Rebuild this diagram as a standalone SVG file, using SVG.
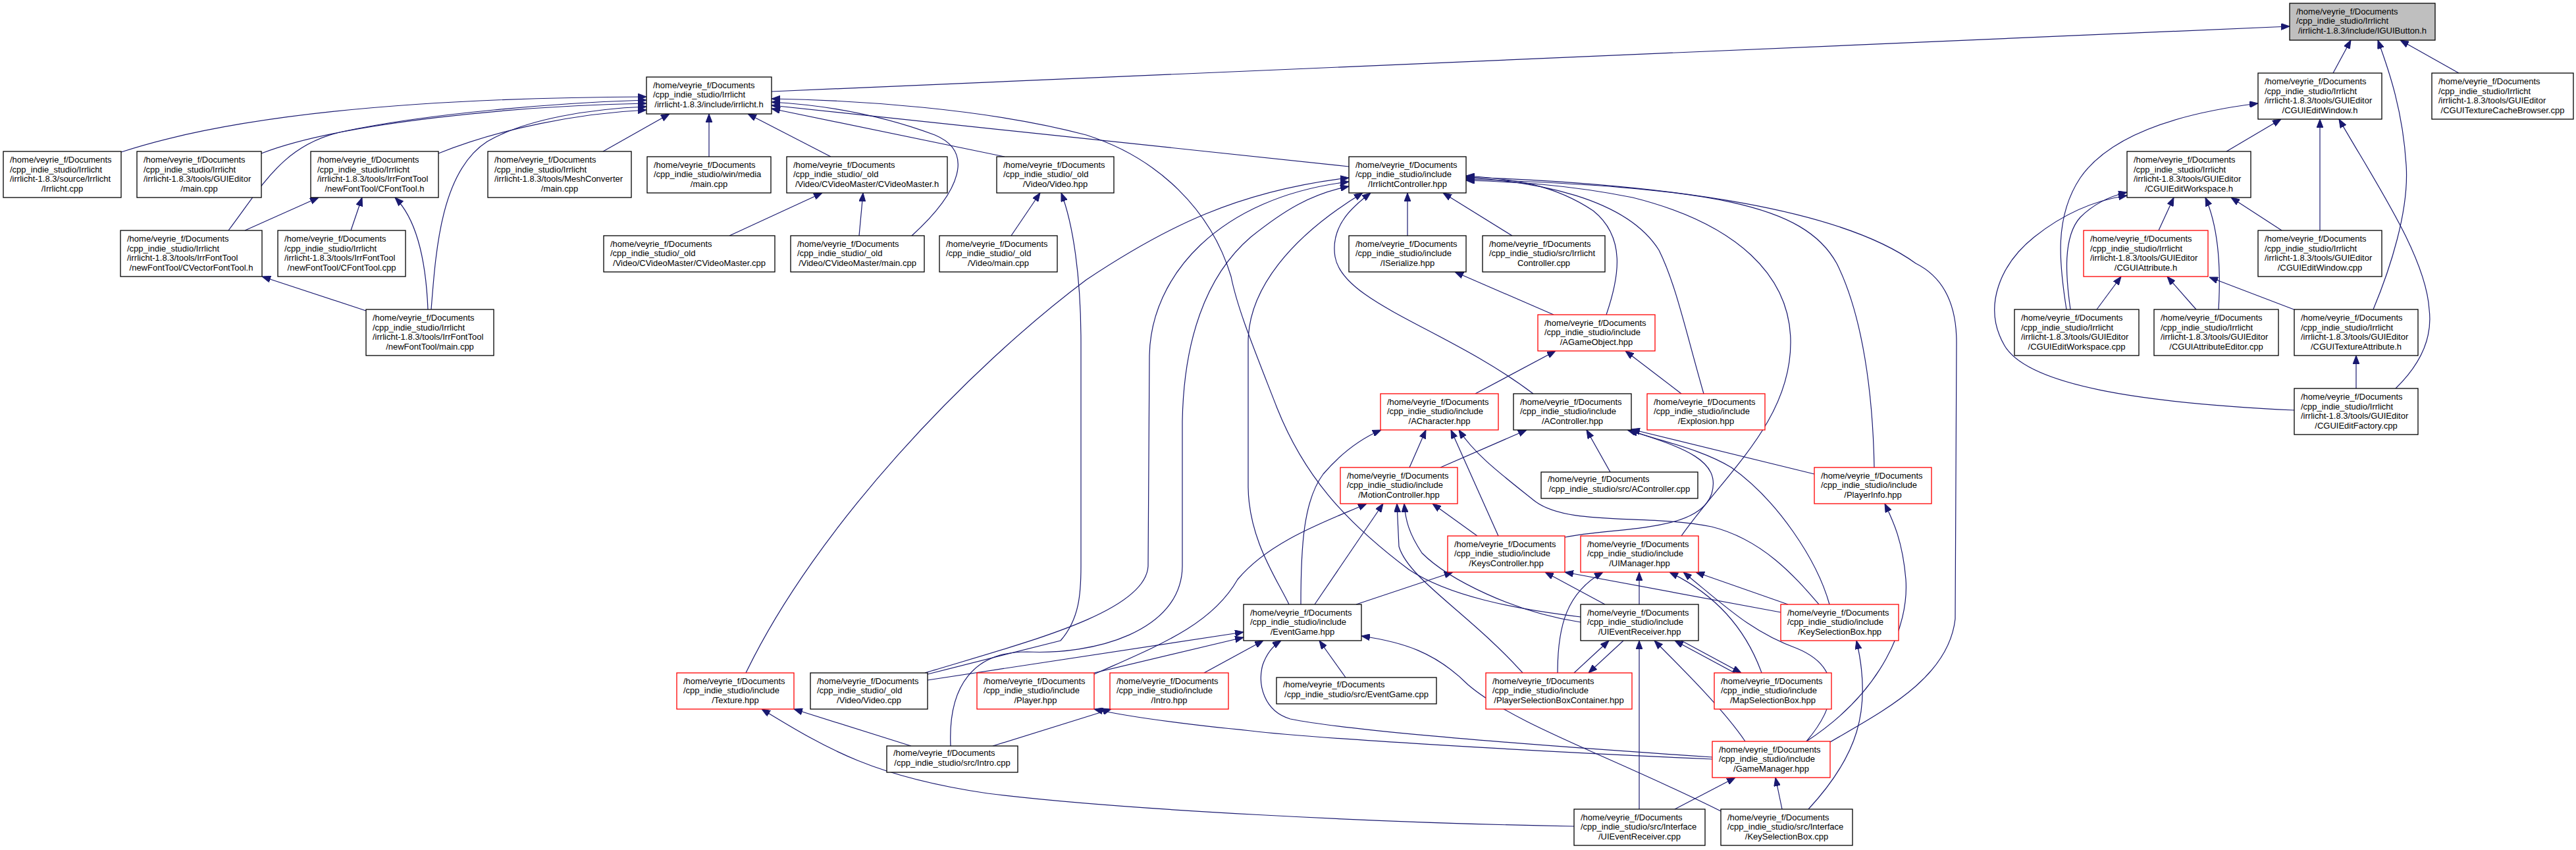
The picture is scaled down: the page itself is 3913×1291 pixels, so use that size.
<svg xmlns="http://www.w3.org/2000/svg" width="3913" height="1291" viewBox="0 0 3913 1291">
<style>
.node rect{fill:#fff;stroke:#000;stroke-width:1.3}
.node.red rect{stroke:#f00}
.node.sel rect{fill:#bfbfbf}
.node text{font-family:"Liberation Sans",Arial,Helvetica,sans-serif;font-size:13px;fill:#000}
.node text.c{text-anchor:middle}
#edges path{fill:none;stroke:#191970;stroke-width:1.2;marker-end:url(#arr)}
</style>
<defs>
<marker id="arr" markerWidth="13" markerHeight="10" refX="13" refY="5" orient="auto" markerUnits="userSpaceOnUse"><path d="M0,0 L13,5 L0,10 z" fill="#191970" stroke="#191970" stroke-width="1"/></marker>
</defs>
<rect width="3913" height="1291" fill="#fff"/>
<g id="edges">
<path d="M3544,111 L3571,61"/>
<path d="M3605,470 C3630,410 3660,320 3655,250 C3650,170 3630,110 3612,61"/>
<path d="M3735,111 L3646,61"/>
<path d="M1172,139 L3478,40"/>
<path d="M3382,230 L3465,181"/>
<path d="M3524,350 L3524,181"/>
<path d="M3639,590 C3680,550 3695,510 3690,470 C3685,390 3610,280 3553,181"/>
<path d="M3139,470 C3128,400 3120,330 3160,270 C3205,205 3310,172 3430,157"/>
<path d="M3279,350 L3302,300"/>
<path d="M3466,350 L3389,300"/>
<path d="M3370,470 C3373,420 3372,350 3350,300"/>
<path d="M3145,470 C3138,420 3133,360 3160,330 C3180,310 3205,298 3231,292"/>
<path d="M3485,623 C3250,612 3080,585 3045,525 C3010,465 3040,400 3090,360 C3140,320 3190,303 3231,297"/>
<path d="M3185,470 L3222,420"/>
<path d="M3336,470 L3292,420"/>
<path d="M3487,471 L3356,421"/>
<path d="M3579,590 L3579,540"/>
<path d="M184,231 C400,160 750,148 982,147"/>
<path d="M347,350 C400,280 430,220 520,200 C650,172 850,156 982,152"/>
<path d="M397,233 C520,185 800,160 982,157"/>
<path d="M655,470 C662,380 670,260 740,215 C800,180 900,165 982,162"/>
<path d="M666,233 C760,195 880,172 982,167"/>
<path d="M916,230 L1017,173"/>
<path d="M1077,238 L1077,173"/>
<path d="M1262,238 L1136,173"/>
<path d="M1385,358 C1460,290 1480,230 1420,205 C1340,175 1260,160 1172,155"/>
<path d="M1526,238 L1172,165"/>
<path d="M2049,253 L1172,160"/>
<path d="M2401,937 C2300,925 2200,905 2140,865 C2040,790 1980,720 1940,620 C1905,530 1880,470 1870,420 C1840,320 1760,240 1650,205 C1500,165 1300,152 1172,150"/>
<path d="M1133,1022 C1240,800 1470,560 1650,425 C1770,345 1880,290 2049,270"/>
<path d="M1405,1022 C1560,975 1740,930 1744,860 L1746,540 C1748,420 1850,300 2049,276"/>
<path d="M1444,1133 C1440,1040 1480,990 1560,990 C1660,995 1795,960 1796,860 L1796,640 C1798,520 1830,420 1900,360 C1950,320 1990,295 2049,283"/>
<path d="M1958,918 C1940,880 1897,820 1896,740 L1896,520 C1896,440 1960,360 2070,293"/>
<path d="M2329,598 C2200,500 2040,460 2028,390 C2020,340 2060,310 2082,293"/>
<path d="M2138,358 L2138,293"/>
<path d="M2297,358 L2192,293"/>
<path d="M2440,478 C2460,420 2470,360 2420,320 C2360,280 2300,272 2227,267"/>
<path d="M2588,598 C2560,500 2545,430 2520,380 C2470,300 2330,275 2227,270"/>
<path d="M2554,814 C2620,720 2720,640 2720,520 C2720,420 2640,340 2480,300 C2380,280 2300,276 2227,274"/>
<path d="M2847,710 C2845,600 2830,480 2790,400 C2740,310 2600,285 2227,272"/>
<path d="M2780,1127 C2860,1080 2960,1030 2970,940 L2972,520 C2972,460 2950,420 2910,400 C2800,320 2550,280 2227,269"/>
<path d="M372,350 L484,300"/>
<path d="M533,350 L550,300"/>
<path d="M650,470 C648,420 640,340 600,300"/>
<path d="M556,472 L398,420"/>
<path d="M1108,358 L1249,293"/>
<path d="M1305,358 L1311,293"/>
<path d="M1536,358 L1580,293"/>
<path d="M1409,1024 L1611,973 C1640,940 1642,900 1642,860 L1642,520 C1642,420 1630,340 1612,293"/>
<path d="M2360,478 L2210,413"/>
<path d="M2241,598 L2363,533"/>
<path d="M2554,598 L2469,533"/>
<path d="M2141,710 L2166,653"/>
<path d="M2276,814 L2204,653"/>
<path d="M2763,918 C2730,880 2680,820 2600,800 C2500,780 2380,800 2330,760 C2280,720 2240,690 2216,653"/>
<path d="M1976,918 C1976,830 1980,760 2010,720 C2040,685 2070,665 2098,653"/>
<path d="M2188,710 L2319,653"/>
<path d="M2446,717 L2410,653"/>
<path d="M2756,720 L2478,652"/>
<path d="M2377,816 C2450,800 2580,810 2600,750 C2615,700 2560,680 2472,653"/>
<path d="M2779,918 C2760,850 2700,760 2630,710 C2580,680 2520,670 2475,653"/>
<path d="M1662,1024 C1760,980 1840,950 1880,880 C1930,820 2020,790 2076,765"/>
<path d="M1997,918 L2101,765"/>
<path d="M2313,1022 C2230,930 2140,880 2125,830 L2122,765"/>
<path d="M2401,945 C2300,930 2200,880 2160,840 C2140,810 2135,790 2133,765"/>
<path d="M2244,814 L2176,765"/>
<path d="M2060,918 L2207,869"/>
<path d="M2438,918 L2347,869"/>
<path d="M2705,930 L2377,869"/>
<path d="M2490,918 L2490,869"/>
<path d="M2366,1022 C2366,950 2380,900 2435,869"/>
<path d="M2676,1022 C2650,950 2600,900 2536,869"/>
<path d="M2716,918 L2576,869"/>
<path d="M2744,1126 C2800,1060 2790,1010 2730,985 C2660,960 2620,920 2557,869"/>
<path d="M2391,1022 L2444,973"/>
<path d="M2466,973 L2413,1022"/>
<path d="M2635,1022 L2544,973"/>
<path d="M2554,973 L2645,1022"/>
<path d="M2651,1126 C2620,1080 2560,1020 2513,973"/>
<path d="M2490,1229 L2490,973"/>
<path d="M2044,1029 L2004,973"/>
<path d="M2614,1232 C2450,1150 2300,1100 2230,1040 C2180,990 2130,975 2068,966"/>
<path d="M1409,1033 L1889,960"/>
<path d="M1662,1022 L1889,968"/>
<path d="M1829,1022 L1919,973"/>
<path d="M2601,1150 C2300,1130 2050,1110 1960,1092 C1920,1080 1910,1040 1918,1010 C1925,990 1935,980 1946,973"/>
<path d="M2601,1153 C2300,1140 1980,1120 1900,1110 C1800,1100 1720,1090 1662,1077"/>
<path d="M1508,1133 L1688,1077"/>
<path d="M1384,1133 L1206,1077"/>
<path d="M2391,1255 C2100,1250 1700,1230 1500,1205 C1330,1180 1260,1140 1157,1077"/>
<path d="M2544,1229 L2636,1181"/>
<path d="M2707,1229 L2697,1181"/>
<path d="M2747,1229 C2820,1150 2845,1080 2820,973"/>
<path d="M2744,1126 C2860,1050 2900,950 2895,880 C2890,820 2875,790 2863,765"/>
</g>
<g id="n_igui" class="node sel"><rect x="3478" y="5" width="221" height="56"/><text x="3488" y="21.8">/home/veyrie_f/Documents</text><text x="3488" y="36.3">/cpp_indie_studio/Irrlicht</text><text class="c" x="3588.5" y="50.8">/irrlicht-1.8.3/include/IGUIButton.h</text></g>
<g id="n_irr" class="node"><rect x="982" y="117" width="190" height="56"/><text x="992" y="133.8">/home/veyrie_f/Documents</text><text x="992" y="148.3">/cpp_indie_studio/Irrlicht</text><text class="c" x="1077" y="162.8">/irrlicht-1.8.3/include/irrlicht.h</text></g>
<g id="n_cgew_h" class="node"><rect x="3430" y="111" width="188" height="70"/><text x="3440" y="128">/home/veyrie_f/Documents</text><text x="3440" y="142.5">/cpp_indie_studio/Irrlicht</text><text x="3440" y="157">/irrlicht-1.8.3/tools/GUIEditor</text><text class="c" x="3524" y="171.5">/CGUIEditWindow.h</text></g>
<g id="n_cache" class="node"><rect x="3694" y="111" width="215" height="70"/><text x="3704" y="128">/home/veyrie_f/Documents</text><text x="3704" y="142.5">/cpp_indie_studio/Irrlicht</text><text x="3704" y="157">/irrlicht-1.8.3/tools/GUIEditor</text><text class="c" x="3801.5" y="171.5">/CGUITextureCacheBrowser.cpp</text></g>
<g id="n_irrcpp" class="node"><rect x="5" y="230" width="179" height="70"/><text x="15" y="247">/home/veyrie_f/Documents</text><text x="15" y="261.5">/cpp_indie_studio/Irrlicht</text><text x="15" y="276">/irrlicht-1.8.3/source/Irrlicht</text><text class="c" x="94.5" y="290.5">/Irrlicht.cpp</text></g>
<g id="n_guimain" class="node"><rect x="208" y="230" width="189" height="70"/><text x="218" y="247">/home/veyrie_f/Documents</text><text x="218" y="261.5">/cpp_indie_studio/Irrlicht</text><text x="218" y="276">/irrlicht-1.8.3/tools/GUIEditor</text><text class="c" x="302.5" y="290.5">/main.cpp</text></g>
<g id="n_cft_h" class="node"><rect x="472" y="230" width="194" height="70"/><text x="482" y="247">/home/veyrie_f/Documents</text><text x="482" y="261.5">/cpp_indie_studio/Irrlicht</text><text x="482" y="276">/irrlicht-1.8.3/tools/IrrFontTool</text><text class="c" x="569" y="290.5">/newFontTool/CFontTool.h</text></g>
<g id="n_mesh" class="node"><rect x="741" y="230" width="218" height="70"/><text x="751" y="247">/home/veyrie_f/Documents</text><text x="751" y="261.5">/cpp_indie_studio/Irrlicht</text><text x="751" y="276">/irrlicht-1.8.3/tools/MeshConverter</text><text class="c" x="850" y="290.5">/main.cpp</text></g>
<g id="n_winmedia" class="node"><rect x="983" y="238" width="188" height="55"/><text x="993" y="254.8">/home/veyrie_f/Documents</text><text x="993" y="269.3">/cpp_indie_studio/win/media</text><text class="c" x="1077" y="283.8">/main.cpp</text></g>
<g id="n_cvm_h" class="node"><rect x="1195" y="238" width="244" height="55"/><text x="1205" y="254.8">/home/veyrie_f/Documents</text><text x="1205" y="269.3">/cpp_indie_studio/_old</text><text class="c" x="1317" y="283.8">/Video/CVideoMaster/CVideoMaster.h</text></g>
<g id="n_video_hpp" class="node"><rect x="1514" y="238" width="178" height="55"/><text x="1524" y="254.8">/home/veyrie_f/Documents</text><text x="1524" y="269.3">/cpp_indie_studio/_old</text><text class="c" x="1603" y="283.8">/Video/Video.hpp</text></g>
<g id="n_ictrl" class="node"><rect x="2049" y="238" width="178" height="55"/><text x="2059" y="254.8">/home/veyrie_f/Documents</text><text x="2059" y="269.3">/cpp_indie_studio/include</text><text class="c" x="2138" y="283.8">/IrrlichtController.hpp</text></g>
<g id="n_cgews_h" class="node"><rect x="3231" y="230" width="188" height="70"/><text x="3241" y="247">/home/veyrie_f/Documents</text><text x="3241" y="261.5">/cpp_indie_studio/Irrlicht</text><text x="3241" y="276">/irrlicht-1.8.3/tools/GUIEditor</text><text class="c" x="3325" y="290.5">/CGUIEditWorkspace.h</text></g>
<g id="n_cvft_h" class="node"><rect x="183" y="350" width="215" height="70"/><text x="193" y="367">/home/veyrie_f/Documents</text><text x="193" y="381.5">/cpp_indie_studio/Irrlicht</text><text x="193" y="396">/irrlicht-1.8.3/tools/IrrFontTool</text><text class="c" x="290.5" y="410.5">/newFontTool/CVectorFontTool.h</text></g>
<g id="n_cft_cpp" class="node"><rect x="422" y="350" width="194" height="70"/><text x="432" y="367">/home/veyrie_f/Documents</text><text x="432" y="381.5">/cpp_indie_studio/Irrlicht</text><text x="432" y="396">/irrlicht-1.8.3/tools/IrrFontTool</text><text class="c" x="519" y="410.5">/newFontTool/CFontTool.cpp</text></g>
<g id="n_cvm_cpp" class="node"><rect x="917" y="358" width="260" height="55"/><text x="927" y="374.8">/home/veyrie_f/Documents</text><text x="927" y="389.3">/cpp_indie_studio/_old</text><text class="c" x="1047" y="403.8">/Video/CVideoMaster/CVideoMaster.cpp</text></g>
<g id="n_cvm_main" class="node"><rect x="1201" y="358" width="203" height="55"/><text x="1211" y="374.8">/home/veyrie_f/Documents</text><text x="1211" y="389.3">/cpp_indie_studio/_old</text><text class="c" x="1302.5" y="403.8">/Video/CVideoMaster/main.cpp</text></g>
<g id="n_video_main" class="node"><rect x="1427" y="358" width="179" height="55"/><text x="1437" y="374.8">/home/veyrie_f/Documents</text><text x="1437" y="389.3">/cpp_indie_studio/_old</text><text class="c" x="1516.5" y="403.8">/Video/main.cpp</text></g>
<g id="n_iser" class="node"><rect x="2049" y="358" width="178" height="55"/><text x="2059" y="374.8">/home/veyrie_f/Documents</text><text x="2059" y="389.3">/cpp_indie_studio/include</text><text class="c" x="2138" y="403.8">/ISerialize.hpp</text></g>
<g id="n_ictrl_cpp" class="node"><rect x="2252" y="358" width="186" height="55"/><text x="2262" y="374.8">/home/veyrie_f/Documents</text><text x="2262" y="389.3">/cpp_indie_studio/src/Irrlicht</text><text class="c" x="2345" y="403.8">Controller.cpp</text></g>
<g id="n_cgattr_h" class="node red"><rect x="3165" y="350" width="189" height="70"/><text x="3175" y="367">/home/veyrie_f/Documents</text><text x="3175" y="381.5">/cpp_indie_studio/Irrlicht</text><text x="3175" y="396">/irrlicht-1.8.3/tools/GUIEditor</text><text class="c" x="3259.5" y="410.5">/CGUIAttribute.h</text></g>
<g id="n_cgew_cpp" class="node"><rect x="3430" y="350" width="188" height="70"/><text x="3440" y="367">/home/veyrie_f/Documents</text><text x="3440" y="381.5">/cpp_indie_studio/Irrlicht</text><text x="3440" y="396">/irrlicht-1.8.3/tools/GUIEditor</text><text class="c" x="3524" y="410.5">/CGUIEditWindow.cpp</text></g>
<g id="n_nft_main" class="node"><rect x="556" y="470" width="194" height="70"/><text x="566" y="487">/home/veyrie_f/Documents</text><text x="566" y="501.5">/cpp_indie_studio/Irrlicht</text><text x="566" y="516">/irrlicht-1.8.3/tools/IrrFontTool</text><text class="c" x="653" y="530.5">/newFontTool/main.cpp</text></g>
<g id="n_agame" class="node red"><rect x="2336" y="478" width="178" height="55"/><text x="2346" y="494.8">/home/veyrie_f/Documents</text><text x="2346" y="509.3">/cpp_indie_studio/include</text><text class="c" x="2425" y="523.8">/AGameObject.hpp</text></g>
<g id="n_cgews_cpp" class="node"><rect x="3060" y="470" width="189" height="70"/><text x="3070" y="487">/home/veyrie_f/Documents</text><text x="3070" y="501.5">/cpp_indie_studio/Irrlicht</text><text x="3070" y="516">/irrlicht-1.8.3/tools/GUIEditor</text><text class="c" x="3154.5" y="530.5">/CGUIEditWorkspace.cpp</text></g>
<g id="n_cgae_cpp" class="node"><rect x="3272" y="470" width="189" height="70"/><text x="3282" y="487">/home/veyrie_f/Documents</text><text x="3282" y="501.5">/cpp_indie_studio/Irrlicht</text><text x="3282" y="516">/irrlicht-1.8.3/tools/GUIEditor</text><text class="c" x="3366.5" y="530.5">/CGUIAttributeEditor.cpp</text></g>
<g id="n_cgta_h" class="node"><rect x="3485" y="470" width="188" height="70"/><text x="3495" y="487">/home/veyrie_f/Documents</text><text x="3495" y="501.5">/cpp_indie_studio/Irrlicht</text><text x="3495" y="516">/irrlicht-1.8.3/tools/GUIEditor</text><text class="c" x="3579" y="530.5">/CGUITextureAttribute.h</text></g>
<g id="n_achar" class="node red"><rect x="2097" y="598" width="179" height="55"/><text x="2107" y="614.8">/home/veyrie_f/Documents</text><text x="2107" y="629.3">/cpp_indie_studio/include</text><text class="c" x="2186.5" y="643.8">/ACharacter.hpp</text></g>
<g id="n_actrl" class="node"><rect x="2299" y="598" width="179" height="55"/><text x="2309" y="614.8">/home/veyrie_f/Documents</text><text x="2309" y="629.3">/cpp_indie_studio/include</text><text class="c" x="2388.5" y="643.8">/AController.hpp</text></g>
<g id="n_expl" class="node red"><rect x="2502" y="598" width="179" height="55"/><text x="2512" y="614.8">/home/veyrie_f/Documents</text><text x="2512" y="629.3">/cpp_indie_studio/include</text><text class="c" x="2591.5" y="643.8">/Explosion.hpp</text></g>
<g id="n_cgef_cpp" class="node"><rect x="3485" y="590" width="188" height="70"/><text x="3495" y="607">/home/veyrie_f/Documents</text><text x="3495" y="621.5">/cpp_indie_studio/Irrlicht</text><text x="3495" y="636">/irrlicht-1.8.3/tools/GUIEditor</text><text class="c" x="3579" y="650.5">/CGUIEditFactory.cpp</text></g>
<g id="n_motion" class="node red"><rect x="2036" y="710" width="178" height="55"/><text x="2046" y="726.8">/home/veyrie_f/Documents</text><text x="2046" y="741.3">/cpp_indie_studio/include</text><text class="c" x="2125" y="755.8">/MotionController.hpp</text></g>
<g id="n_actrl_cpp" class="node"><rect x="2341" y="717" width="238" height="40"/><text x="2351" y="732.3">/home/veyrie_f/Documents</text><text class="c" x="2460" y="746.8">/cpp_indie_studio/src/AController.cpp</text></g>
<g id="n_pinfo" class="node red"><rect x="2756" y="710" width="178" height="55"/><text x="2766" y="726.8">/home/veyrie_f/Documents</text><text x="2766" y="741.3">/cpp_indie_studio/include</text><text class="c" x="2845" y="755.8">/PlayerInfo.hpp</text></g>
<g id="n_keysc" class="node red"><rect x="2199" y="814" width="178" height="55"/><text x="2209" y="830.8">/home/veyrie_f/Documents</text><text x="2209" y="845.3">/cpp_indie_studio/include</text><text class="c" x="2288" y="859.8">/KeysController.hpp</text></g>
<g id="n_uiman" class="node red"><rect x="2401" y="814" width="179" height="55"/><text x="2411" y="830.8">/home/veyrie_f/Documents</text><text x="2411" y="845.3">/cpp_indie_studio/include</text><text class="c" x="2490.5" y="859.8">/UIManager.hpp</text></g>
<g id="n_evgame" class="node"><rect x="1889" y="918" width="179" height="55"/><text x="1899" y="934.8">/home/veyrie_f/Documents</text><text x="1899" y="949.3">/cpp_indie_studio/include</text><text class="c" x="1978.5" y="963.8">/EventGame.hpp</text></g>
<g id="n_uier_h" class="node"><rect x="2401" y="918" width="179" height="55"/><text x="2411" y="934.8">/home/veyrie_f/Documents</text><text x="2411" y="949.3">/cpp_indie_studio/include</text><text class="c" x="2490.5" y="963.8">/UIEventReceiver.hpp</text></g>
<g id="n_ksb_h" class="node red"><rect x="2705" y="918" width="179" height="55"/><text x="2715" y="934.8">/home/veyrie_f/Documents</text><text x="2715" y="949.3">/cpp_indie_studio/include</text><text class="c" x="2794.5" y="963.8">/KeySelectionBox.hpp</text></g>
<g id="n_texture" class="node red"><rect x="1028" y="1022" width="178" height="55"/><text x="1038" y="1038.8">/home/veyrie_f/Documents</text><text x="1038" y="1053.3">/cpp_indie_studio/include</text><text class="c" x="1117" y="1067.8">/Texture.hpp</text></g>
<g id="n_videocpp" class="node"><rect x="1231" y="1022" width="178" height="55"/><text x="1241" y="1038.8">/home/veyrie_f/Documents</text><text x="1241" y="1053.3">/cpp_indie_studio/_old</text><text class="c" x="1320" y="1067.8">/Video/Video.cpp</text></g>
<g id="n_player" class="node red"><rect x="1484" y="1022" width="178" height="55"/><text x="1494" y="1038.8">/home/veyrie_f/Documents</text><text x="1494" y="1053.3">/cpp_indie_studio/include</text><text class="c" x="1573" y="1067.8">/Player.hpp</text></g>
<g id="n_intro" class="node red"><rect x="1686" y="1022" width="180" height="55"/><text x="1696" y="1038.8">/home/veyrie_f/Documents</text><text x="1696" y="1053.3">/cpp_indie_studio/include</text><text class="c" x="1776" y="1067.8">/Intro.hpp</text></g>
<g id="n_evgame_cpp" class="node"><rect x="1939" y="1029" width="243" height="40"/><text x="1949" y="1044.3">/home/veyrie_f/Documents</text><text class="c" x="2060.5" y="1058.8">/cpp_indie_studio/src/EventGame.cpp</text></g>
<g id="n_psbc" class="node red"><rect x="2257" y="1022" width="222" height="55"/><text x="2267" y="1038.8">/home/veyrie_f/Documents</text><text x="2267" y="1053.3">/cpp_indie_studio/include</text><text class="c" x="2368" y="1067.8">/PlayerSelectionBoxContainer.hpp</text></g>
<g id="n_msb" class="node red"><rect x="2604" y="1022" width="178" height="55"/><text x="2614" y="1038.8">/home/veyrie_f/Documents</text><text x="2614" y="1053.3">/cpp_indie_studio/include</text><text class="c" x="2693" y="1067.8">/MapSelectionBox.hpp</text></g>
<g id="n_intro_cpp" class="node"><rect x="1347" y="1133" width="199" height="40"/><text x="1357" y="1148.3">/home/veyrie_f/Documents</text><text class="c" x="1446.5" y="1162.8">/cpp_indie_studio/src/Intro.cpp</text></g>
<g id="n_gm" class="node red"><rect x="2601" y="1126" width="179" height="55"/><text x="2611" y="1142.8">/home/veyrie_f/Documents</text><text x="2611" y="1157.3">/cpp_indie_studio/include</text><text class="c" x="2690.5" y="1171.8">/GameManager.hpp</text></g>
<g id="n_uier_cpp" class="node"><rect x="2391" y="1229" width="199" height="55"/><text x="2401" y="1245.8">/home/veyrie_f/Documents</text><text x="2401" y="1260.3">/cpp_indie_studio/src/Interface</text><text class="c" x="2490.5" y="1274.8">/UIEventReceiver.cpp</text></g>
<g id="n_ksb_cpp" class="node"><rect x="2614" y="1229" width="200" height="55"/><text x="2624" y="1245.8">/home/veyrie_f/Documents</text><text x="2624" y="1260.3">/cpp_indie_studio/src/Interface</text><text class="c" x="2714" y="1274.8">/KeySelectionBox.cpp</text></g>
</svg>
